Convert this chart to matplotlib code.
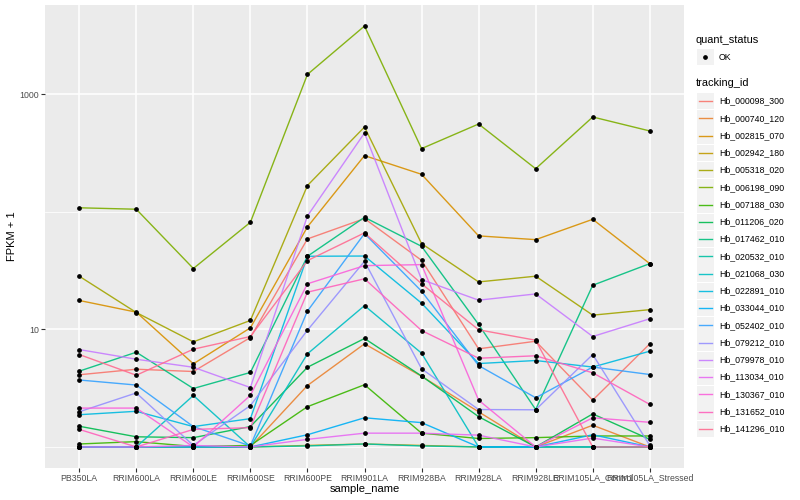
import matplotlib.pyplot as plt
import numpy as np
from matplotlib.lines import Line2D
from matplotlib.patches import Rectangle

plt.rcParams['font.family'] = ['Liberation Sans', 'DejaVu Sans']

# x categories
samples = ["PB350LA", "RRIM600LA", "RRIM600LE", "RRIM600SE", "RRIM600PE",
           "RRIM901LA", "RRIM928BA", "RRIM928LA", "RRIM928LE",
           "RRIM105LA_Control", "RRIM105LA_Stressed"]

# FPKM + 1 per gene
hb_000098_300 = [4.11, 4.58, 4.38, 8.52, 58.7, 87.4, 38.6, 6.83, 7.92, 2.50, 7.53]
hb_000740_120 = [1.0, 1.0, 1.0, 1.0, 3.33, 7.53, 3.99, 1.99, 1.0, 1.53, 1.0]
hb_002815_070 = [17.6, 14.0, 5.09, 10.3, 74.3, 300, 208, 62.3, 57.9, 86.2, 36.2]
hb_002942_180 = [1.0, 1.0, 1.0, 1.0, 1.03, 1.06, 1.03, 1.0, 1.0, 1.0, 1.0]
hb_005318_020 = [28.3, 13.9, 7.83, 11.9, 167, 525, 53.6, 25.3, 28.3, 13.2, 14.7]
hb_006198_090 = [108, 105, 32.9, 81.3, 1470, 3790, 344, 557, 232, 639, 486]
hb_007188_030 = [1.06, 1.11, 1.01, 1.03, 2.20, 3.38, 1.31, 1.18, 1.20, 1.24, 1.24]
hb_011206_020 = [1.50, 1.22, 1.20, 1.49, 4.76, 8.36, 4.01, 1.81, 1.0, 1.91, 1.16]
hb_017462_010 = [4.41, 6.39, 3.14, 4.30, 41.8, 89.6, 50.8, 11.0, 2.08, 23.7, 36.2]
hb_020532_010 = [1.0, 1.0, 1.0, 1.0, 1.02, 1.06, 1.02, 1.0, 1.0, 1.0, 1.0]
hb_021068_030 = [1.0, 1.0, 2.74, 1.0, 6.19, 15.9, 6.27, 1.0, 1.0, 1.0, 1.0]
hb_022891_010 = [1.88, 2.01, 1.49, 1.74, 41.8, 42.0, 16.7, 5.12, 5.43, 4.78, 6.52]
hb_033044_010 = [1.0, 1.0, 1.0, 1.0, 1.27, 1.77, 1.61, 1.0, 1.0, 1.27, 1.0]
hb_052402_010 = [3.71, 3.36, 1.49, 1.02, 14.3, 65.2, 21.1, 4.92, 2.62, 4.78, 4.13]
hb_079212_010 = [1.99, 2.88, 1.03, 2.25, 9.83, 37.9, 4.62, 2.08, 2.07, 6.11, 1.03]
hb_079978_010 = [6.73, 5.57, 4.76, 3.20, 92.1, 467, 26.5, 17.7, 20.0, 8.69, 12.3]
hb_113034_010 = [1.0, 1.0, 1.03, 1.0, 1.16, 1.31, 1.31, 1.26, 1.0, 1.19, 1.0]
hb_130367_010 = [2.14, 2.14, 1.0, 2.75, 24.4, 34.8, 35.5, 2.50, 1.0, 1.77, 1.62]
hb_131652_010 = [1.41, 1.0, 1.41, 1.46, 20.7, 26.9, 9.77, 5.68, 5.96, 4.27, 2.30]
hb_141296_010 = [6.11, 4.07, 6.78, 8.69, 38.4, 66.1, 24.4, 9.91, 8.08, 1.0, 1.0]

tracking_ids = ["Hb_000098_300", "Hb_000740_120", "Hb_002815_070", "Hb_002942_180",
                "Hb_005318_020", "Hb_006198_090", "Hb_007188_030", "Hb_011206_020",
                "Hb_017462_010", "Hb_020532_010", "Hb_021068_030", "Hb_022891_010",
                "Hb_033044_010", "Hb_052402_010", "Hb_079212_010", "Hb_079978_010",
                "Hb_113034_010", "Hb_130367_010", "Hb_131652_010", "Hb_141296_010"]
series = [hb_000098_300, hb_000740_120, hb_002815_070, hb_002942_180, hb_005318_020,
          hb_006198_090, hb_007188_030, hb_011206_020, hb_017462_010, hb_020532_010,
          hb_021068_030, hb_022891_010, hb_033044_010, hb_052402_010, hb_079212_010,
          hb_079978_010, hb_113034_010, hb_130367_010, hb_131652_010, hb_141296_010]

# ggplot default hue palette for 20 groups
colors = ["#F8766D", "#EA8331", "#D89000", "#C09B00", "#A3A500", "#7CAE00", "#39B600",
          "#00BB4E", "#00BF7D", "#00C1A3", "#00BFC4", "#00BAE0", "#00B0F6", "#35A2FF",
          "#9590FF", "#C77CFF", "#E76BF3", "#FA62DB", "#FF62BC", "#FF6C91"]

W, H = 800, 500
fig = plt.figure(figsize=(8, 5), dpi=100)
ax = fig.add_axes([45 / W, 1 - 468 / H, 639 / W, 463 / H])
ax.set_facecolor("#EBEBEB")

x = np.arange(len(samples))
for vals, col in zip(series, colors):
    ax.plot(x, vals, color=col, lw=1.0, alpha=0.9, zorder=3)
for vals in series:
    ax.plot(x, vals, 'o', color='black', ms=2.4, zorder=4)

ax.set_yscale('log')
allv = np.concatenate([np.array(s) for s in series])
lo, hi = np.log10(allv.min()), np.log10(allv.max())
pad = (hi - lo) * 0.05
ax.set_ylim(10 ** (lo - pad), 10 ** (hi + pad))
ax.set_xlim(-0.6, len(samples) - 0.4)

ax.set_yticks([10, 1000])
ax.set_yticklabels(["10", "1000"])
ax.set_yticks([1, 100], minor=True)
ax.yaxis.set_minor_formatter(plt.NullFormatter())
ax.set_xticks(x)
ax.set_xticklabels(samples)

ax.grid(True, which='major', color='white', lw=1.1, zorder=0)
ax.grid(True, which='minor', axis='y', color='white', lw=0.55, zorder=0)
ax.set_axisbelow(True)
for s in ax.spines.values():
    s.set_visible(False)
ax.tick_params(axis='both', which='major', length=2.6, width=0.8, color='#333333',
               labelsize=6.3, labelcolor='#4D4D4D', pad=1.5)
ax.tick_params(axis='y', which='minor', length=0)

ax.set_xlabel("sample_name", fontsize=8, labelpad=1)
ax.set_ylabel("FPKM + 1", fontsize=8, labelpad=2)

# legend drawn by hand, ggplot style
def px(xp, yp):
    return xp / W, 1 - yp / H

fig.text(*px(696, 40), "quant_status", fontsize=7.9, va='center', ha='left')
kx, kw, kh = 697, 16.5, 16.5
fig.patches.append(Rectangle(px(kx, 57 + kh / 2), kw / W, kh / H, transform=fig.transFigure,
                             facecolor='#F2F2F2', edgecolor='none'))
fig.lines.append(Line2D([(kx + kw / 2) / W], [1 - 57 / H], marker='o', ms=2.4, color='black',
                        transform=fig.transFigure))
fig.text(*px(719, 57), "OK", fontsize=6.3, va='center', ha='left')

fig.text(*px(696, 83), "tracking_id", fontsize=7.9, va='center', ha='left')
for i, (name, col) in enumerate(zip(tracking_ids, colors)):
    yc = 101 + i * 17.25
    fig.patches.append(Rectangle(px(kx, yc + kh / 2), kw / W, kh / H, transform=fig.transFigure,
                                 facecolor='#F2F2F2', edgecolor='none'))
    fig.lines.append(Line2D([(kx + 1.5) / W, (kx + kw - 1.5) / W], [1 - yc / H, 1 - yc / H],
                            color=col, lw=1.0, alpha=0.9, transform=fig.transFigure))
    fig.text(*px(719, yc), name, fontsize=6.3, va='center', ha='left')

fig.savefig("out.png", dpi=100)
